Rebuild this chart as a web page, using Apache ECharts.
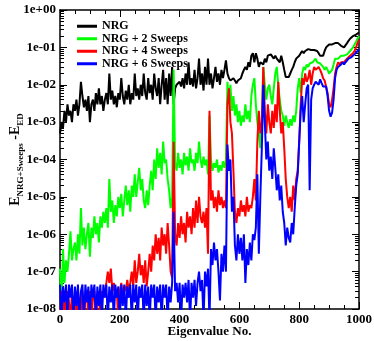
<!DOCTYPE html>
<html>
<head>
<meta charset="utf-8">
<script src="https://cdn.jsdelivr.net/npm/echarts@6/dist/echarts.min.js"></script>
<style>
  html, body { margin: 0; padding: 0; background: #fff; }
  #chart { width: 374px; height: 341px; }
</style>
</head>
<body>
<div id="chart"></div>
<script>
// eigenvalue index step between stored samples
var step = 5;

var seriesNames = ['NRG', 'NRG + 2 Sweeps', 'NRG + 4 Sweeps', 'NRG + 6 Sweeps'];
var seriesColors = ['#000000', '#00ff00', '#ff0000', '#0000ff'];

var decadeTicks = [1e-8, 1e-7, 1e-6, 1e-5, 1e-4, 1e-3, 1e-2, 1e-1, 1];

// E_NRG - E_ED, one value every 5 eigenvalues (0..1000)
var nrg = [
  5e-4, 1e-3, 7e-4, 2e-3, 1e-3, 3e-3, 1.5e-3, 2e-3, 1e-3, 3e-3,
  2e-3, 4e-3, 1.5e-3, 3e-3, 1.2e-2, 5e-3, 2.5e-3, 4e-3, 2e-3, 5e-3,
  1e-3, 3e-3, 4e-3, 2e-3, 6e-3, 3e-3, 8e-3, 3e-3, 5e-3, 2e-3,
  4e-3, 6e-3, 3e-3, 2e-2, 4e-3, 7e-3, 3e-3, 5e-3, 2.5e-3, 6e-3,
  4e-3, 1.5e-2, 5e-3, 3e-3, 7e-3, 4e-3, 1e-2, 3e-3, 6e-3, 4e-3,
  2e-2, 5e-3, 8e-3, 4e-3, 1e-2, 5e-3, 2e-2, 6e-3, 4e-3, 1.5e-2,
  6e-3, 1e-2, 4e-3, 2e-2, 8e-3, 5e-3, 1.5e-2, 3e-3, 1e-2, 2.5e-2,
  4e-3, 1.5e-2, 3e-3, 2e-2, 5e-3, 3e-2, 3e-3, 8e-3, 1e-2, 9e-3,
  1.2e-2, 9e-3, 1.5e-2, 8e-3, 2e-2, 1e-2, 4e-2, 1e-2, 1.5e-2, 9e-3,
  2.5e-2, 8e-3, 1.5e-2, 5e-2, 1e-2, 2e-2, 7e-3, 3e-2, 1e-2, 5e-2,
  1e-2, 2e-2, 8e-3, 1.5e-2, 3e-2, 1.2e-2, 2e-2, 1e-2, 2.5e-2, 1.5e-2,
  2.5e-2, 4.5e-2, 2e-2, 1.5e-2, 1.3e-2, 1.2e-2, 1.5e-2, 1.3e-2, 1.1e-2, 1.3e-2,
  1.2e-2, 1.5e-2, 2e-2, 2.5e-2, 3e-2, 2.5e-2, 4e-2, 3e-2, 6e-2, 7e-2,
  4e-2, 7e-2, 5e-2, 3e-2, 4e-2, 4.5e-2, 3.5e-2, 5e-2, 4e-2, 6e-2,
  6e-2, 6.5e-2, 6e-2, 5e-2, 6e-2, 5e-2, 5.5e-2, 4e-2, 6e-2, 4e-2,
  2.5e-2, 1.6e-2, 1.5e-2, 1.6e-2, 2e-2, 2.5e-2, 3e-2, 4e-2, 5e-2, 5.5e-2,
  6e-2, 7e-2, 8e-2, 7e-2, 8e-2, 8.5e-2, 9e-2, 8e-2, 8.5e-2, 8e-2,
  8.5e-2, 8e-2, 8e-2, 7e-2, 6e-2, 5.5e-2, 6e-2, 8e-2, 1e-1, 1.1e-1,
  1.2e-1, 1.3e-1, 1.2e-1, 1.3e-1, 1.3e-1, 1.2e-1, 1.3e-1, 1.2e-1, 1.1e-1, 1e-1,
  1e-1, 1.1e-1, 1.3e-1, 1.5e-1, 1.7e-1, 1.9e-1, 2e-1, 2.1e-1, 2.2e-1, 2.3e-1,
  2.5e-1
];

var sweeps2 = [
  1.2e-7, 1e-8, 4e-7, 5e-8, 2e-7, 1e-7, 3e-7, 1.2e-6, 2e-7, 4e-7,
  6e-7, 2e-7, 1e-6, 3e-7, 5e-6, 5e-7, 1.5e-6, 4e-7, 1e-6, 2e-6,
  2.5e-7, 1.5e-6, 8e-7, 3e-6, 1e-6, 2e-6, 6e-7, 3e-6, 1.5e-6, 4e-6,
  2e-6, 5e-6, 1.5e-6, 3e-5, 4e-6, 8e-6, 2e-6, 6e-6, 3e-6, 1e-5,
  5e-6, 1.2e-5, 3e-6, 8e-6, 2e-5, 6e-6, 1.5e-5, 4e-6, 2e-5, 1e-5,
  4e-5, 1e-5, 2.5e-5, 6e-5, 1.5e-5, 3e-5, 8e-6, 5e-6, 1.5e-5, 6e-6,
  2e-5, 5e-5, 1.5e-5, 1e-4, 3e-5, 2e-4, 6e-5, 1.5e-4, 4e-5, 3e-4,
  8e-5, 1e-4, 3e-5, 1.5e-5, 5e-6, 1e-5, 2.5e-2, 8e-5, 5e-5, 1.5e-4,
  6e-5, 1e-4, 4e-5, 1.5e-4, 7e-5, 1.2e-4, 5e-5, 2e-4, 8e-5, 1e-4,
  5e-5, 1.5e-4, 8e-5, 3e-4, 1e-4, 6e-5, 1.2e-4, 7e-5, 1e-4, 4e-5,
  1.5e-3, 1e-4, 5e-5, 8e-5, 6e-5, 1e-4, 4.5e-5, 7e-5, 5e-5, 9e-5,
  6e-5, 1e-4, 1.2e-2, 3e-3, 1e-2, 2e-3, 5e-3, 1.5e-3, 3e-3, 1e-3,
  2e-3, 8e-4, 1.5e-3, 1e-3, 3e-3, 1.2e-3, 2e-3, 1e-3, 5e-3, 1e-2,
  1.5e-2, 3e-3, 1e-3, 5e-4, 2e-4, 1e-3, 3e-2, 1e-2, 4e-3, 8e-3,
  1e-2, 5e-3, 3e-3, 8e-3, 2e-2, 3e-2, 1e-2, 4e-3, 2e-3, 1.5e-3,
  8e-4, 1.5e-3, 1e-3, 7e-4, 1.2e-3, 8e-4, 1.5e-3, 1e-3, 2e-3, 8e-3,
  1.5e-2, 6e-3, 2e-2, 3e-2, 2.5e-2, 3.5e-2, 3e-2, 3.7e-2, 3.5e-2, 4e-2,
  4.5e-2, 5e-2, 4e-2, 4.5e-2, 3.7e-2, 3.5e-2, 3e-2, 2.5e-2, 3e-2, 2.5e-2,
  2e-2, 2e-2, 2.5e-2, 3.5e-2, 5e-2, 5.5e-2, 5e-2, 5.5e-2, 6e-2, 5.5e-2,
  6e-2, 5.5e-2, 6.5e-2, 7e-2, 8e-2, 9e-2, 1e-1, 1.2e-1, 1.4e-1, 1.7e-1,
  2e-1
];

var sweeps4 = [
  5e-9, 3e-8, 5e-9, 2e-8, 5e-9, 3e-8, 1.5e-8, 5e-9, 3e-8, 5e-9,
  2e-8, 5e-9, 3e-8, 1e-8, 5e-9, 3e-8, 5e-9, 2e-8, 3e-8, 5e-9,
  3e-8, 5e-9, 2e-8, 3e-8, 5e-9, 2e-8, 3e-8, 5e-9, 3e-8, 2e-8,
  3e-8, 5e-8, 1e-7, 5e-8, 1.2e-7, 3e-8, 5e-8, 2e-8, 3e-8, 5e-9,
  3e-8, 5e-8, 2e-8, 4e-8, 3e-8, 6e-8, 3e-8, 5e-8, 1e-7, 4e-8,
  2e-7, 5e-8, 1e-7, 3e-7, 8e-8, 1.5e-7, 5e-8, 2e-7, 4e-8, 1e-7,
  3e-7, 1e-7, 5e-7, 2e-7, 1e-6, 3e-7, 8e-7, 2e-7, 1.5e-6, 5e-7,
  1e-6, 3e-7, 2e-6, 5e-7, 1e-7, 7e-8, 3e-4, 1e-6, 5e-7, 2e-6,
  8e-7, 3e-6, 1e-6, 2e-6, 6e-7, 4e-6, 1.5e-6, 3e-6, 1e-6, 5e-6,
  1.5e-6, 8e-6, 2e-6, 1e-5, 3e-6, 2e-6, 4e-6, 1.5e-6, 5e-6, 3e-7,
  2e-3, 8e-6, 1.5e-5, 5e-6, 1e-5, 4e-6, 1.5e-5, 6e-6, 1e-5, 5e-6,
  8e-6, 5e-6, 3e-3, 8e-3, 1e-3, 5e-4, 5e-5, 4e-6, 2e-6, 5e-6,
  3e-6, 8e-6, 4e-6, 6e-6, 3e-6, 1e-5, 4e-6, 6e-6, 5e-6, 1e-5,
  3e-5, 8e-6, 3e-4, 2e-3, 5e-4, 1e-3, 3e-2, 2e-3, 5e-4, 3e-3,
  1e-3, 5e-4, 2e-3, 7e-4, 3e-3, 1e-3, 1.2e-2, 2e-3, 5e-4, 1e-3,
  2e-4, 3e-5, 1e-5, 5e-6, 1e-5, 4e-6, 2e-5, 8e-6, 3e-5, 5e-5,
  3e-4, 3e-3, 1.5e-2, 1e-2, 2e-2, 1.2e-2, 1.5e-2, 2.5e-2, 1e-2, 2e-2,
  3e-2, 2.5e-2, 2.8e-2, 3e-2, 2.5e-2, 2e-2, 1.5e-2, 1.3e-2, 1.2e-2, 6e-3,
  3e-3, 2.5e-3, 4e-3, 8e-3, 2e-2, 3e-2, 4e-2, 3.5e-2, 4e-2, 4.5e-2,
  4e-2, 4.5e-2, 5e-2, 5.5e-2, 6e-2, 6.5e-2, 7e-2, 8e-2, 1e-1, 1.3e-1,
  1.6e-1
];

var sweeps6 = [
  4.5e-8, 5e-9, 4e-8, 1.5e-8, 4.5e-8, 5e-9, 4.5e-8, 2e-8, 4.5e-8, 5e-9,
  4e-8, 1.2e-8, 4.5e-8, 5e-9, 3e-8, 4.5e-8, 5e-9, 4.5e-8, 1.5e-8, 4e-8,
  5e-9, 4.5e-8, 2e-8, 4.5e-8, 5e-9, 4e-8, 1.2e-8, 4.5e-8, 5e-9, 4.5e-8,
  2e-8, 4.5e-8, 5e-9, 4e-8, 1.5e-8, 4.5e-8, 5e-9, 4.5e-8, 2e-8, 4e-8,
  5e-9, 4.5e-8, 1.2e-8, 4.5e-8, 5e-9, 4e-8, 2e-8, 4.5e-8, 5e-9, 4.5e-8,
  1.5e-8, 4.5e-8, 5e-9, 4e-8, 2e-8, 4.5e-8, 5e-9, 4.5e-8, 1.2e-8, 4e-8,
  5e-9, 4.5e-8, 2e-8, 4.5e-8, 5e-9, 4e-8, 1.5e-8, 4.5e-8, 5e-9, 4.5e-8,
  2e-8, 4.5e-8, 5e-9, 4e-8, 1.5e-8, 5e-8, 4e-6, 3e-8, 5e-8, 1.5e-8,
  5e-8, 5e-9, 4.5e-8, 2e-8, 5e-8, 1.5e-8, 6e-8, 5e-9, 5e-8, 2e-8,
  6e-8, 1.2e-8, 5e-8, 1e-7, 3e-8, 6e-8, 5e-9, 1e-7, 4e-8, 1.2e-7,
  5e-9, 4e-7, 1.5e-7, 6e-7, 2e-7, 4e-7, 1e-7, 1.7e-8, 3e-7, 1e-7,
  5e-7, 1e-7, 2.5e-4, 5e-5, 1e-4, 4e-6, 1e-5, 5e-7, 2e-7, 1e-6,
  3e-7, 8e-7, 2e-7, 1e-6, 5e-8, 4e-7, 1.5e-7, 6e-7, 2e-7, 1e-6,
  7e-7, 1.5e-6, 4e-5, 3e-7, 1e-5, 2e-4, 1e-2, 1e-3, 1e-4, 3e-4,
  5e-5, 1.2e-4, 3e-5, 2e-4, 6e-5, 1.5e-5, 4e-5, 8e-6, 2e-5, 4e-6,
  2e-6, 5e-7, 1.5e-6, 8e-7, 6e-7, 2e-6, 1e-6, 5e-6, 2e-5, 4e-5,
  3e-4, 2e-3, 5e-3, 1e-3, 3e-3, 8e-3, 1e-2, 1.5e-5, 4e-3, 8e-3,
  1e-2, 1.2e-2, 1.1e-2, 1e-2, 1.4e-2, 1.1e-2, 9e-3, 8e-3, 9e-3, 5e-3,
  2e-3, 1.4e-3, 1.8e-3, 4e-3, 1.5e-2, 2.5e-2, 3e-2, 2.8e-2, 3.5e-2, 4e-2,
  3.5e-2, 4e-2, 4.5e-2, 5e-2, 5e-2, 5.5e-2, 6e-2, 6.5e-2, 7e-2, 8e-2,
  9e-2
];

var allData = [nrg, sweeps2, sweeps4, sweeps6];

// minor ticks of the log axis: 2..9 in every decade
var minorTicks = [];
for (var d = 0; d < decadeTicks.length - 1; d++) {
  for (var k = 2; k <= 9; k++) minorTicks.push(k * decadeTicks[d]);
}

var font = 'Liberation Serif';

function expLabel(v) {
  var e = Math.round(Math.log10(v));
  var a = Math.abs(e);
  return '1e' + (e < 0 ? '-' : '+') + (a < 10 ? '0' : '') + a;
}

var myChart = echarts.init(document.getElementById('chart'), null, { renderer: 'canvas' });

function xAx(pos, showLabel) {
  return {
    type: 'value', position: pos, min: 0, max: 1000, interval: 200,
    name: showLabel ? 'Eigenvalue No.' : '',
    nameLocation: 'middle', nameGap: 16, nameMoveOverlap: false,
    nameTextStyle: { fontFamily: font, fontWeight: 'bold', fontSize: 13, color: '#000' },
    axisLine: { show: true, onZero: false, lineStyle: { color: '#000', width: 1.5 } },
    axisTick: { show: true, inside: true, length: 7, lineStyle: { color: '#000', width: 1 } },
    minorTick: { show: true, splitNumber: 4, length: 4, lineStyle: { color: '#000', width: 1 } },
    axisLabel: {
      show: showLabel, margin: 4, formatter: function (v) { return String(v); },
      fontFamily: font, fontWeight: 'bold', fontSize: 13, color: '#000'
    },
    splitLine: { show: false }
  };
}

function yAx(pos, ticks, len, showLine, showLabel, name) {
  return {
    type: 'log', logBase: 10, position: pos, min: 1e-8, max: 1,
    name: name || '',
    nameLocation: 'middle', nameGap: 38, nameRotate: 90, nameMoveOverlap: false,
    nameTextStyle: {
      color: '#000',
      rich: {
        a: { fontFamily: font, fontWeight: 'bold', fontSize: 14, color: '#000', verticalAlign: 'bottom' },
        b: { fontFamily: font, fontWeight: 'bold', fontSize: 9, color: '#000', verticalAlign: 'bottom', padding: [0, 0, -3, 0] }
      }
    },
    axisLine: { show: showLine, onZero: false, lineStyle: { color: '#000', width: 1.5 } },
    axisTick: { show: true, inside: true, length: len, customValues: ticks, lineStyle: { color: '#000', width: 1 } },
    axisLabel: {
      show: showLabel, customValues: decadeTicks, margin: 4, formatter: expLabel,
      fontFamily: font, fontWeight: 'bold', fontSize: 13, color: '#000'
    },
    splitLine: { show: false }
  };
}

var series = [];
for (var s = 0; s < seriesNames.length; s++) {
  var vals = allData[s];
  var pts = [];
  for (var i = 0; i < vals.length; i++) pts.push([i * step, vals[i]]);
  series.push({
    name: seriesNames[s],
    type: 'line',
    xAxisIndex: 0,
    yAxisIndex: 0,
    data: pts,
    showSymbol: false,
    symbol: 'none',
    clip: true,
    lineStyle: { color: seriesColors[s], width: 2 },
    itemStyle: { color: seriesColors[s] }
  });
}

var option = {
  animation: false,
  backgroundColor: '#fff',
  grid: { left: 60, right: 15, top: 10, bottom: 32, containLabel: false, outerBoundsMode: 'none' },
  legend: {
    data: seriesNames,
    orient: 'vertical',
    left: 72, top: 15,
    icon: 'rect',
    itemWidth: 20, itemHeight: 3, itemGap: 0,
    textStyle: { fontFamily: font, fontWeight: 'bold', fontSize: 12, color: '#000', lineHeight: 12.5 }
  },
  xAxis: [xAx('bottom', true), xAx('top', false)],
  yAxis: [
    yAx('left', decadeTicks, 7, true, true, '{a|E}{b|NRG+Sweeps}{a| -E}{b|ED}'),
    yAx('left', minorTicks, 4, false, false),
    yAx('right', decadeTicks, 7, true, false),
    yAx('right', minorTicks, 4, false, false)
  ],
  series: series
};

myChart.setOption(option);
window.addEventListener('resize', function () {
  myChart.resize();
});
</script>
</body>
</html>
